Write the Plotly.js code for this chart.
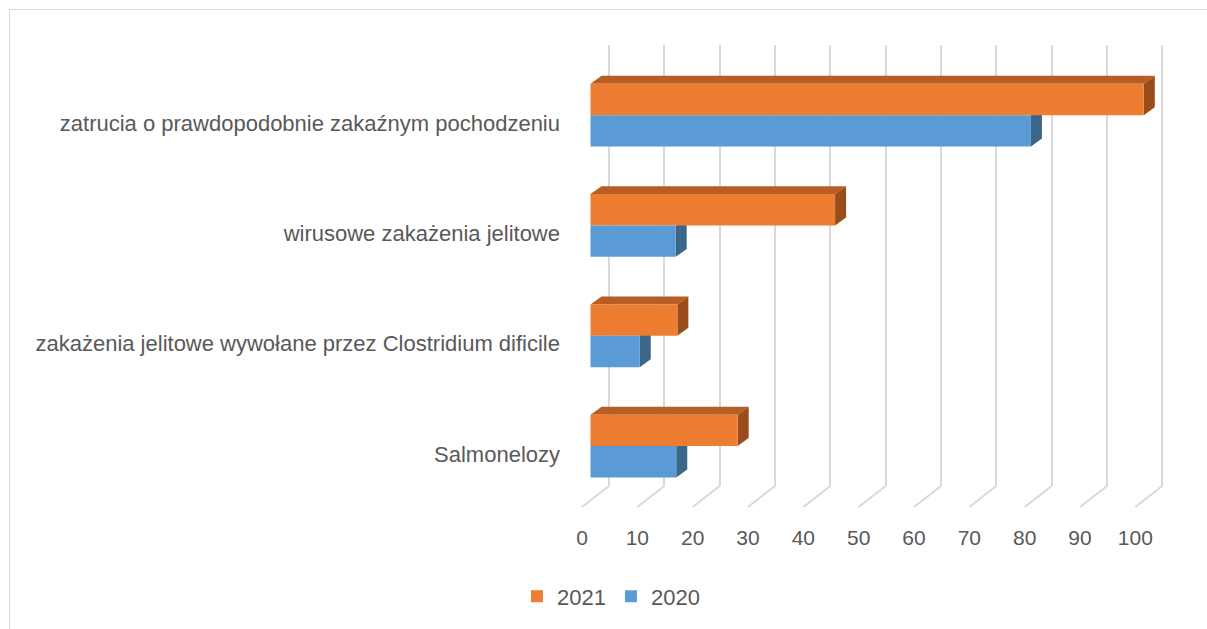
<!DOCTYPE html>
<html>
<head>
<meta charset="utf-8">
<script src="https://cdn.plot.ly/plotly-3.0.1.min.js"></script>
<style>
  html, body { margin: 0; padding: 0; background: #ffffff; overflow: hidden; }
  #frame { position: absolute; left: 9px; top: 9px; width: 1300px; height: 700px; border: 1px solid #d9d9d9; box-sizing: border-box; }
  #chart { position: absolute; left: 0; top: 0; width: 1207px; height: 629px; }
</style>
</head>
<body>
<div id="frame"></div>
<div id="chart"></div>
<script>
// ---- data ----
const categories = [
  'zatrucia o prawdopodobnie zakaźnym pochodzeniu',
  'wirusowe zakażenia jelitowe',
  'zakażenia jelitowe wywołane przez Clostridium dificile',
  'Salmonelozy'
];
const values2021 = [100, 44.2, 15.7, 26.6];
const values2020 = [79.6, 15.4, 8.9, 15.5];
const tickValues = [0, 10, 20, 30, 40, 50, 60, 70, 80, 90, 100];

// ---- style / geometry ----
const W = 1207, H = 629;
const plotLeft = 575, plotRight = 1180, plotTop = 45, plotBottom = 488;
const pxPerUnit = 5.533;
const barZeroPx = 590.5;     // front face origin of the bars
const gridZeroPx = 609;      // back-wall origin of the gridlines
const catFirstPx = 115.5, catStepPx = 110.8;
const depthX = 11, depthY = 8;   // 3-D extrusion in px
const floorDX = -27, floorDY = -21;

const orange = '#ED7D31', orangeTop = '#B85E24', orangeSide = '#9A4D1B';
const blue = '#5B9BD5', blueSide = '#3B6689';
const textColor = '#595959';
const font = 'Liberation Sans, Arial, sans-serif';
const fontSize = 22;

const xRangeBars = [(plotLeft - barZeroPx) / pxPerUnit, (plotRight - barZeroPx) / pxPerUnit];
const xRangeGrid = [(plotLeft - gridZeroPx) / pxPerUnit, (plotRight - gridZeroPx) / pxPerUnit];
const yRange = [(categories.length - 1) + (plotBottom - (catFirstPx + (categories.length - 1) * catStepPx)) / catStepPx,
                -(catFirstPx - plotTop) / catStepPx];
const barH = 31.5 / catStepPx;
const dxU = depthX / pxPerUnit, dyU = depthY / catStepPx;

const idx = categories.map((c, i) => i);

const traces = [
  { type: 'bar', orientation: 'h', name: '2021', y: idx, x: values2021,
    marker: { color: orange, line: { width: 0 } }, xaxis: 'x', yaxis: 'y', hoverinfo: 'x+name' },
  { type: 'bar', orientation: 'h', name: '2020', y: idx, x: values2020,
    marker: { color: blue, line: { width: 0 } }, xaxis: 'x', yaxis: 'y', hoverinfo: 'x+name' }
];

const shapes = [];
// 3-D faces of the bars
idx.forEach(i => {
  const oTop = i - barH, mid = i, bBot = i + barH;
  const vo = values2021[i], vb = values2020[i];
  // orange top face
  shapes.push({ type: 'path', xref: 'x', yref: 'y', layer: 'between', line: { width: 0 }, fillcolor: orangeTop,
    path: `M0,${oTop} L${vo},${oTop} L${vo + dxU},${oTop - dyU} L${dxU},${oTop - dyU} Z` });
  // orange side face
  shapes.push({ type: 'path', xref: 'x', yref: 'y', layer: 'between', line: { width: 0 }, fillcolor: orangeSide,
    path: `M${vo},${oTop} L${vo + dxU},${oTop - dyU} L${vo + dxU},${mid - dyU} L${vo},${mid} Z` });
  // blue side face
  shapes.push({ type: 'path', xref: 'x', yref: 'y', layer: 'between', line: { width: 0 }, fillcolor: blueSide,
    path: `M${vb},${mid} L${vb + dxU},${mid - dyU} L${vb + dxU},${bBot - dyU} L${vb},${bBot} Z` });
});
// floor lines from back wall to front edge
tickValues.forEach(v => {
  shapes.push({ type: 'line', xref: 'x2', yref: 'paper', xsizemode: 'pixel', ysizemode: 'pixel',
    xanchor: v, yanchor: 0, x0: 0, x1: floorDX, y0: 0, y1: floorDY, layer: 'below',
    line: { color: '#d9d9d9', width: 2 } });
});

const layout = {
  width: W, height: H,
  paper_bgcolor: 'rgba(0,0,0,0)', plot_bgcolor: 'rgba(0,0,0,0)',
  margin: { l: plotLeft, r: W - plotRight, t: plotTop, b: H - plotBottom, pad: 0 },
  font: { family: font, color: textColor, size: fontSize },
  barmode: 'group', bargap: 1 - 2 * barH, bargroupgap: 0,
  showlegend: true,
  legend: { orientation: 'h', x: (611 - plotLeft) / (plotRight - plotLeft), xanchor: 'center',
            y: (plotBottom - 599) / (plotBottom - plotTop), yanchor: 'middle',
            font: { family: font, size: fontSize, color: textColor }, traceorder: 'normal', itemwidth: 30 },
  xaxis: { range: xRangeBars, showgrid: false, zeroline: false, showticklabels: false, showline: false, fixedrange: true },
  xaxis2: { overlaying: 'x', anchor: 'y', side: 'bottom', range: xRangeGrid, tickvals: tickValues,
            ticktext: tickValues.map(String), showgrid: true, gridcolor: '#d9d9d9', gridwidth: 2,
            zeroline: false, showline: false, ticks: '', ticklabelshift: -27, ticklabelstandoff: 37,
            tickfont: { family: font, size: 21, color: textColor } },
  yaxis: { range: yRange, tickvals: idx, ticktext: categories, showgrid: false, zeroline: false,
           showline: false, ticks: '', ticklabelstandoff: 14, ticklabelshift: -8,
           tickfont: { family: font, size: fontSize, color: textColor } },
  shapes: shapes
};

Plotly.newPlot('chart', traces, layout, { displayModeBar: false, staticPlot: true });
</script>
</body>
</html>
